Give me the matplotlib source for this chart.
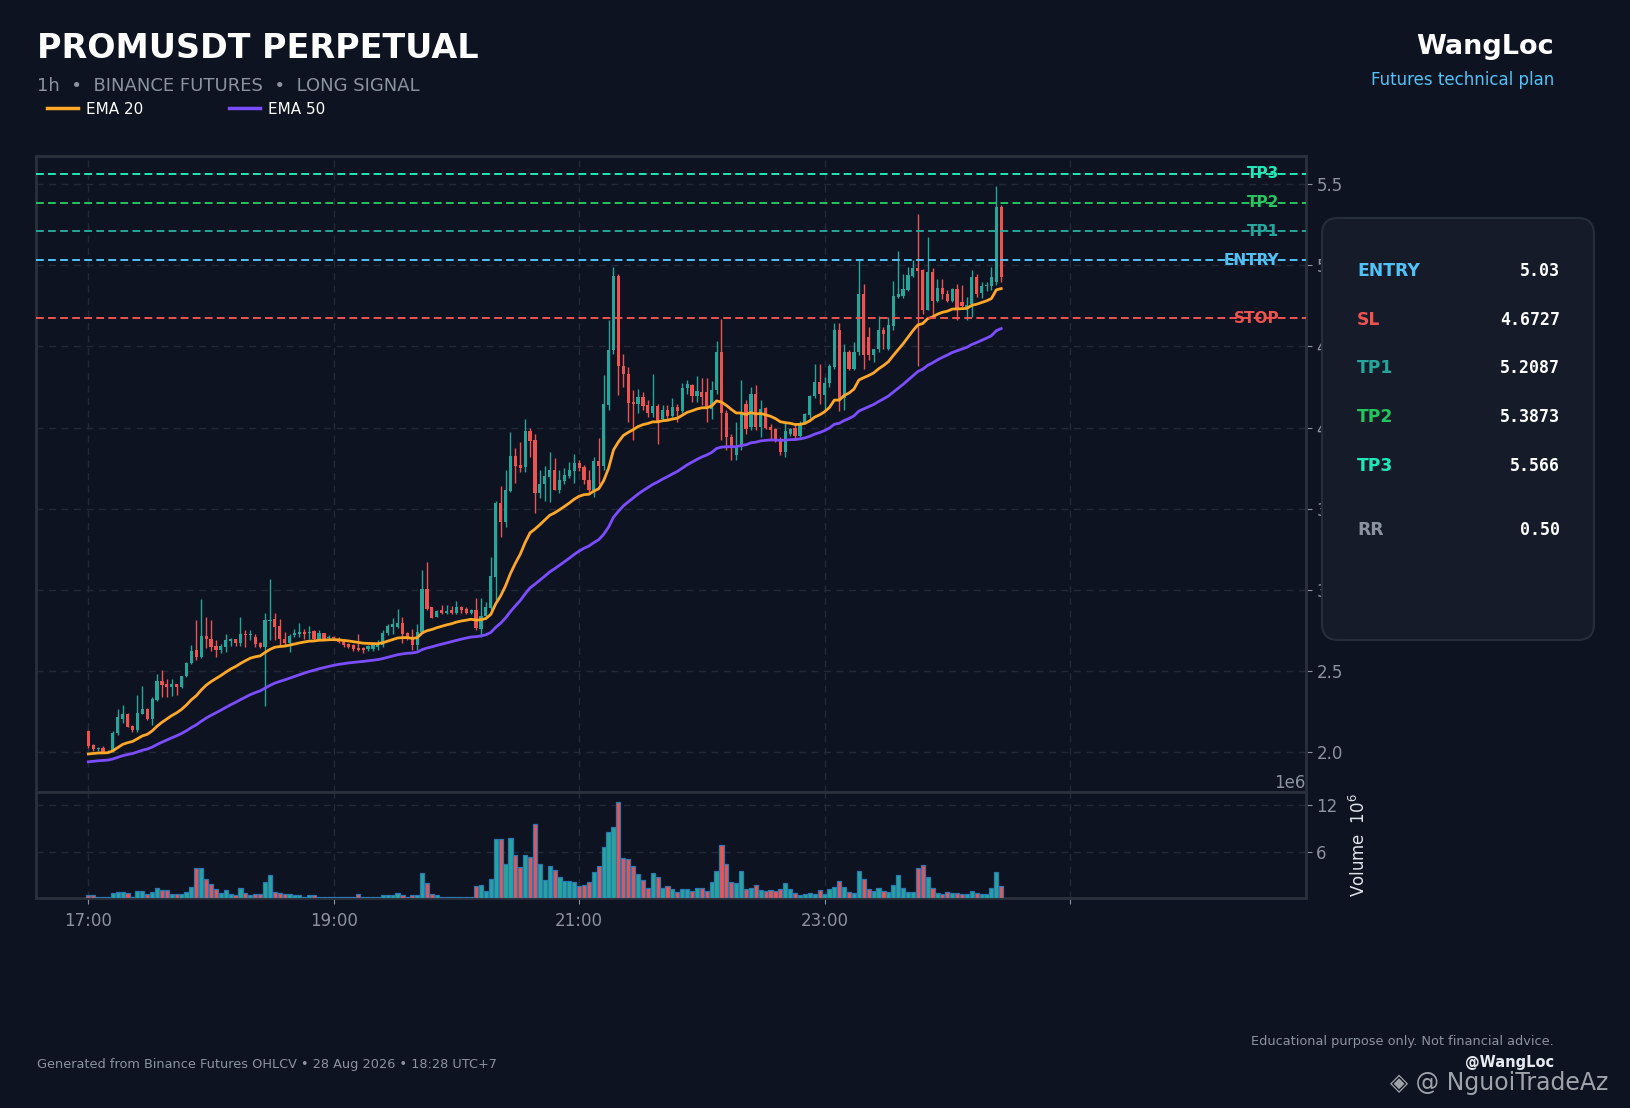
import matplotlib
matplotlib.use("Agg")
import matplotlib.pyplot as plt
import matplotlib.dates as mdates
from matplotlib.patches import FancyBboxPatch
from matplotlib.lines import Line2D
from matplotlib.ticker import MultipleLocator, FixedLocator, FuncFormatter
import numpy as np
import pandas as pd

# ---- data --------------------------------------------------------------
start_time = "2026-08-27 17:00"
bar_seconds = 144

opens = [
    2.129, 2.043, 2.016, 2.025, 2.004, 2.008, 2.115, 2.207, 2.236, 2.160,
    2.138, 2.236, 2.265, 2.203, 2.320, 2.437, 2.417, 2.403, 2.421, 2.403,
    2.466, 2.550, 2.631, 2.585, 2.713, 2.700, 2.653, 2.628, 2.649, 2.684,
    2.698, 2.670, 2.727, 2.723, 2.711, 2.672, 2.649, 2.808, 2.819, 2.776,
    2.694, 2.674, 2.723, 2.725, 2.740, 2.735, 2.745, 2.698, 2.731, 2.705,
    2.708, 2.700, 2.684, 2.665, 2.659, 2.642, 2.640, 2.635, 2.635, 2.649,
    2.659, 2.731, 2.772, 2.772, 2.793, 2.731, 2.700, 2.659, 2.741, 3.008,
    2.895, 2.834, 2.875, 2.858, 2.875, 2.858, 2.895, 2.880, 2.858, 2.875,
    2.760, 2.838, 2.891, 3.080, 3.538, 3.419, 3.610, 3.824, 3.768, 3.758,
    3.978, 3.922, 3.598, 3.651, 3.696, 3.737, 3.618, 3.672, 3.701, 3.733,
    3.783, 3.758, 3.680, 3.614, 3.795, 3.762, 4.138, 4.477, 4.933, 4.380,
    4.333, 4.156, 4.144, 4.189, 4.138, 4.093, 4.132, 4.056, 4.107, 4.070,
    4.128, 4.103, 4.247, 4.261, 4.193, 4.220, 4.220, 4.117, 4.231, 4.467,
    4.087, 3.943, 3.830, 3.881, 4.144, 4.004, 4.206, 4.004, 4.122, 4.004,
    3.990, 3.926, 3.850, 3.960, 3.998, 3.950, 4.029, 4.076, 4.193, 4.282,
    4.200, 4.276, 4.374, 4.600, 4.180, 4.467, 4.360, 4.467, 4.826, 4.559,
    4.446, 4.487, 4.600, 4.487, 4.625, 4.806, 4.810, 4.847, 4.933, 4.986,
    4.970, 4.723, 4.957, 4.781, 4.863, 4.826, 4.781, 4.853, 4.775, 4.745,
    4.764, 4.929, 4.830, 4.870, 4.870, 4.900, 5.360,
]
highs = [
    2.136, 2.049, 2.033, 2.037, 2.012, 2.131, 2.265, 2.290, 2.240, 2.166,
    2.351, 2.407, 2.269, 2.341, 2.479, 2.505, 2.448, 2.448, 2.421, 2.472,
    2.555, 2.657, 2.813, 2.941, 2.834, 2.817, 2.690, 2.665, 2.727, 2.704,
    2.698, 2.832, 2.752, 2.752, 2.727, 2.678, 2.856, 3.064, 2.856, 2.821,
    2.739, 2.725, 2.756, 2.793, 2.756, 2.780, 2.752, 2.752, 2.731, 2.720,
    2.715, 2.711, 2.690, 2.670, 2.665, 2.727, 2.649, 2.660, 2.665, 2.690,
    2.752, 2.790, 2.824, 2.879, 2.834, 2.741, 2.756, 2.787, 3.125, 3.169,
    2.895, 2.875, 2.906, 2.906, 2.900, 2.932, 2.900, 2.895, 2.879, 2.947,
    2.947, 2.926, 3.204, 3.546, 3.641, 3.737, 3.974, 3.877, 3.912, 4.056,
    4.000, 3.963, 3.737, 3.762, 3.850, 3.814, 3.737, 3.754, 3.789, 3.840,
    3.799, 3.768, 3.738, 3.820, 3.933, 4.323, 4.662, 4.990, 4.949, 4.456,
    4.374, 4.230, 4.241, 4.220, 4.169, 4.333, 4.148, 4.138, 4.138, 4.185,
    4.148, 4.276, 4.296, 4.267, 4.317, 4.308, 4.308, 4.288, 4.534, 4.672,
    4.110, 3.960, 4.035, 4.292, 4.170, 4.250, 4.265, 4.173, 4.130, 4.020,
    4.000, 3.943, 4.035, 4.000, 4.014, 4.040, 4.090, 4.200, 4.395, 4.395,
    4.313, 4.395, 4.645, 4.645, 4.518, 4.477, 4.528, 5.042, 4.888, 4.621,
    4.487, 4.688, 4.621, 4.682, 4.902, 5.087, 4.945, 4.990, 5.031, 5.319,
    4.980, 5.175, 4.986, 4.918, 4.918, 4.851, 4.863, 4.888, 4.882, 4.806,
    4.974, 4.945, 4.900, 4.900, 4.990, 5.490, 5.370,
]
lows = [
    2.023, 2.006, 2.008, 1.992, 1.992, 2.000, 2.103, 2.179, 2.152, 2.125,
    2.125, 2.232, 2.197, 2.170, 2.314, 2.341, 2.337, 2.345, 2.349, 2.392,
    2.462, 2.540, 2.567, 2.577, 2.641, 2.624, 2.583, 2.608, 2.618, 2.654,
    2.656, 2.654, 2.645, 2.688, 2.649, 2.639, 2.285, 2.690, 2.690, 2.653,
    2.659, 2.614, 2.711, 2.711, 2.694, 2.698, 2.690, 2.690, 2.690, 2.695,
    2.690, 2.670, 2.650, 2.640, 2.620, 2.625, 2.610, 2.620, 2.625, 2.628,
    2.649, 2.720, 2.727, 2.762, 2.670, 2.690, 2.628, 2.628, 2.741, 2.875,
    2.824, 2.830, 2.854, 2.854, 2.854, 2.854, 2.858, 2.854, 2.854, 2.752,
    2.710, 2.834, 2.875, 2.937, 3.327, 3.388, 3.600, 3.659, 3.727, 3.727,
    3.820, 3.475, 3.569, 3.549, 3.542, 3.614, 3.594, 3.655, 3.692, 3.659,
    3.733, 3.655, 3.594, 3.573, 3.655, 3.738, 4.107, 4.456, 4.200, 4.251,
    4.035, 3.922, 4.087, 4.107, 4.066, 4.066, 3.902, 4.047, 4.046, 4.066,
    4.035, 4.087, 4.206, 4.159, 4.159, 4.138, 4.035, 4.053, 4.210, 3.922,
    3.860, 3.800, 3.800, 3.860, 3.960, 3.984, 3.984, 3.943, 3.990, 3.922,
    3.910, 3.830, 3.820, 3.950, 3.930, 3.940, 4.020, 4.060, 4.180, 4.148,
    4.107, 4.251, 4.360, 4.100, 4.107, 4.354, 4.354, 4.446, 4.360, 4.415,
    4.405, 4.467, 4.487, 4.477, 4.600, 4.800, 4.800, 4.842, 4.929, 4.378,
    4.703, 4.723, 4.682, 4.775, 4.795, 4.775, 4.775, 4.662, 4.744, 4.662,
    4.682, 4.806, 4.800, 4.840, 4.850, 4.880, 4.900,
]
closes = [
    2.039, 2.018, 2.025, 2.000, 2.008, 2.119, 2.216, 2.236, 2.156, 2.138,
    2.240, 2.265, 2.203, 2.327, 2.437, 2.413, 2.403, 2.421, 2.403, 2.466,
    2.550, 2.626, 2.585, 2.713, 2.694, 2.645, 2.628, 2.653, 2.688, 2.698,
    2.670, 2.727, 2.723, 2.730, 2.667, 2.647, 2.813, 2.813, 2.772, 2.694,
    2.674, 2.717, 2.731, 2.740, 2.727, 2.739, 2.694, 2.733, 2.698, 2.712,
    2.702, 2.680, 2.660, 2.650, 2.635, 2.632, 2.628, 2.655, 2.659, 2.663,
    2.731, 2.776, 2.787, 2.793, 2.727, 2.706, 2.659, 2.741, 3.008, 2.885,
    2.828, 2.869, 2.858, 2.869, 2.858, 2.895, 2.875, 2.858, 2.875, 2.762,
    2.838, 2.895, 3.086, 3.538, 3.419, 3.614, 3.824, 3.762, 3.752, 3.978,
    3.918, 3.598, 3.655, 3.701, 3.737, 3.618, 3.676, 3.707, 3.737, 3.783,
    3.748, 3.680, 3.614, 3.795, 3.762, 4.144, 4.477, 4.933, 4.380, 4.329,
    4.152, 4.144, 4.189, 4.132, 4.093, 4.132, 4.036, 4.107, 4.070, 4.128,
    4.103, 4.247, 4.267, 4.193, 4.224, 4.189, 4.128, 4.231, 4.467, 4.087,
    3.943, 3.880, 3.880, 4.087, 3.994, 4.206, 4.004, 4.113, 4.000, 3.984,
    3.922, 3.850, 3.978, 3.990, 3.947, 4.029, 4.083, 4.193, 4.282, 4.210,
    4.276, 4.378, 4.600, 4.170, 4.467, 4.360, 4.467, 4.826, 4.446, 4.446,
    4.487, 4.600, 4.575, 4.631, 4.810, 4.822, 4.857, 4.939, 4.986, 4.966,
    4.723, 4.957, 4.781, 4.863, 4.822, 4.781, 4.853, 4.740, 4.750, 4.755,
    4.929, 4.826, 4.870, 4.880, 4.930, 5.360, 4.930,
]
# volume in millions
volumes = [
    0.33, 0.33, 0.10, 0.10, 0.10, 0.59, 0.76, 0.76, 0.59, 0.10,
    0.85, 0.85, 0.46, 0.76, 1.23, 0.97, 0.97, 0.46, 0.46, 0.46,
    0.72, 1.35, 3.91, 3.91, 2.38, 1.74, 1.10, 0.59, 0.97, 0.46,
    0.33, 1.23, 0.59, 0.33, 0.46, 0.46, 2.00, 2.89, 0.72, 0.59,
    0.46, 0.46, 0.33, 0.33, 0.15, 0.33, 0.33, 0.10, 0.10, 0.10,
    0.10, 0.10, 0.10, 0.10, 0.12, 0.46, 0.10, 0.10, 0.10, 0.10,
    0.33, 0.33, 0.33, 0.59, 0.33, 0.15, 0.33, 0.33, 3.19, 1.86,
    0.46, 0.33, 0.10, 0.10, 0.10, 0.10, 0.10, 0.10, 0.10, 1.48,
    1.61, 0.85, 2.38, 7.60, 7.60, 4.34, 7.74, 5.57, 4.04, 5.57,
    5.31, 9.60, 4.34, 2.34, 4.09, 3.58, 2.68, 2.17, 2.17, 2.04,
    1.53, 1.66, 2.04, 3.32, 4.09, 6.64, 8.56, 9.19, 12.50, 5.11,
    4.98, 4.09, 3.07, 2.30, 1.28, 3.19, 2.68, 1.28, 1.53, 1.15,
    0.77, 1.15, 1.15, 0.89, 1.28, 1.28, 0.89, 2.04, 3.45, 6.90,
    4.34, 2.04, 1.92, 3.45, 1.15, 1.28, 1.66, 1.02, 0.89, 1.02,
    0.89, 1.15, 1.92, 1.15, 0.64, 0.38, 0.51, 0.64, 0.51, 1.02,
    0.51, 1.15, 1.40, 2.17, 1.40, 0.77, 0.64, 3.45, 2.43, 1.15,
    0.89, 1.28, 0.89, 0.77, 1.66, 2.94, 1.28, 0.77, 0.77, 3.83,
    4.21, 2.68, 1.28, 0.64, 0.51, 0.77, 0.64, 0.64, 0.51, 0.51,
    0.89, 0.64, 0.51, 0.51, 1.28, 3.32, 1.53,
]

ema20_seed = 1.983
ema50_seed = 1.936

entry = 5.03
stop_loss = 4.6727
tp1 = 5.2087
tp2 = 5.3873
tp3 = 5.566
rr = 0.50

# ---- colours -------------------------------------------------------------
BG = "#0d1320"
PANEL = "#151b29"
SPINE = "#2a303c"
GRID = "#222938"
MUTED = "#8b93a1"
UP = "#26a69a"
DOWN = "#ef5350"
C_EMA20 = "#ffa726"
C_EMA50 = "#7c4dff"
C_ENTRY = "#4fc3f7"
C_SL = "#ef5350"
C_TP1 = "#26a69a"
C_TP2 = "#22c55e"
C_TP3 = "#1de9b6"


def ema(values, span, seed):
    alpha = 2.0 / (span + 1)
    out = []
    prev = seed
    for v in values:
        prev = prev + alpha * (v - prev)
        out.append(prev)
    return np.array(out)


times = pd.date_range(start_time, periods=len(closes), freq=f"{bar_seconds}s")
x = mdates.date2num(times.to_pydatetime())
bar_w = bar_seconds / 86400.0

o = np.array(opens)
h = np.array(highs)
l = np.array(lows)
c = np.array(closes)
up = c >= o
colors = np.where(up, UP, DOWN)

fig = plt.figure(figsize=(16.31, 11.08), dpi=100, facecolor=BG)
ax = fig.add_axes([0.0223, 0.2852, 0.7784, 0.574], facecolor=BG)
axv = fig.add_axes([0.0223, 0.1898, 0.7784, 0.0954], facecolor=BG, sharex=ax)

# candles
ax.vlines(x, l, h, colors=colors, linewidth=1.0, zorder=2)
body_bottom = np.minimum(o, c)
body_h = np.maximum(np.abs(c - o), 0.004)
ax.bar(x, body_h, bottom=body_bottom, width=bar_w * 0.65, color=colors,
       linewidth=0, zorder=3)

ax.plot(x, ema(c, 20, ema20_seed), color=C_EMA20, lw=2.0, zorder=4, label="EMA 20")
ax.plot(x, ema(c, 50, ema50_seed), color=C_EMA50, lw=2.0, zorder=4, label="EMA 50")

levels = [
    (tp3, "TP3", C_TP3),
    (tp2, "TP2", C_TP2),
    (tp1, "TP1", C_TP1),
    (entry, "ENTRY", C_ENTRY),
    (stop_loss, "STOP", C_SL),
]
for price, name, col in levels:
    ax.axhline(price, color=col, lw=1.4, ls=(0, (4, 2.2)), zorder=5)
    ax.text(0.979, price, name, transform=ax.get_yaxis_transform(),
            ha="right", va="center", color=col, fontsize=11,
            fontweight="bold", zorder=6)

# volume
axv.bar(x, np.array(volumes) * 1e6, width=bar_w * 0.85, color=colors,
        edgecolor="#2b78b5", linewidth=0.9, zorder=3)

# axes styling
x0 = mdates.date2num(times[0] - pd.Timedelta(minutes=25.4))
x1 = mdates.date2num(times[0] + pd.Timedelta(minutes=595.4))
ax.set_xlim(x0, x1)
ax.set_ylim(1.754, 5.674)
axv.set_ylim(0, 13.75e6)

for a in (ax, axv):
    for s in a.spines.values():
        s.set_color(SPINE)
        s.set_linewidth(2)
    a.yaxis.tick_right()
    a.yaxis.set_label_position("right")
    a.tick_params(colors=MUTED, labelsize=12, length=4, color=MUTED)
    a.grid(True, color=GRID, ls=(0, (5, 4)), lw=1.0, zorder=0)
    a.set_axisbelow(True)

ax.yaxis.set_major_locator(MultipleLocator(0.5))
ax.yaxis.set_major_formatter(FuncFormatter(lambda v, p: f"{v:.1f}"))
ax.tick_params(axis="x", labelbottom=False, length=0)

axv.yaxis.set_major_locator(FixedLocator([6e6, 12e6]))
axv.ticklabel_format(axis="y", style="sci", scilimits=(6, 6))
axv.yaxis.get_offset_text().set_color(MUTED)
axv.yaxis.get_offset_text().set_fontsize(12)
axv.set_ylabel(r"Volume  $10^6$", color="#dfe3ea", fontsize=12, labelpad=8)

axv.xaxis.set_major_locator(mdates.HourLocator(byhour=[17, 19, 21, 23, 1]))


def hour_label(v, pos):
    d = mdates.num2date(v)
    return "" if d.hour == 1 else d.strftime("%H:%M")


axv.xaxis.set_major_formatter(FuncFormatter(hour_label))
axv.tick_params(axis="x", pad=6)

# header
fig.text(0.0227, 0.9558, "PROMUSDT PERPETUAL", color="white", fontsize=24,
         fontweight="bold", va="center", ha="left")
fig.text(0.0227, 0.9224, "1h  \u2022  BINANCE FUTURES  \u2022  LONG SIGNAL",
         color=MUTED, fontsize=13, va="center", ha="left")
fig.text(0.9528, 0.9576, "WangLoc", color="white", fontsize=19.5,
         fontweight="bold", va="center", ha="right")
fig.text(0.9528, 0.9278, "Futures technical plan", color=C_ENTRY, fontsize=12,
         va="center", ha="right")

handles = [Line2D([], [], color=C_EMA20, lw=2.5), Line2D([], [], color=C_EMA50, lw=2.5)]
fig.legend(handles, ["EMA 20", "EMA 50"], loc="center left",
           bbox_to_anchor=(0.029, 0.9016), ncol=2, frameon=False,
           fontsize=11, labelcolor="white", handlelength=2.0,
           handletextpad=0.55, columnspacing=5.6, borderaxespad=0,
           borderpad=0)

# plan panel
panel = FancyBboxPatch((13.22, 4.68), 2.72, 4.22,
                       boxstyle="round,pad=0,rounding_size=0.16",
                       transform=fig.dpi_scale_trans, facecolor=PANEL,
                       edgecolor="#262d3b", linewidth=1.5, zorder=2)
fig.add_artist(panel)

rows = [
    ("ENTRY", f"{entry:.2f}", C_ENTRY, 0.7554),
    ("SL", f"{stop_loss:.4f}", C_SL, 0.7112),
    ("TP1", f"{tp1:.4f}", C_TP1, 0.6679),
    ("TP2", f"{tp2:.4f}", C_TP2, 0.6236),
    ("TP3", f"{tp3:.3f}", C_TP3, 0.5794),
    ("RR", f"{rr:.2f}", MUTED, 0.5217),
]
for name, val, col, yy in rows:
    fig.text(0.832, yy, name, color=col, fontsize=12.3, fontweight="bold",
             va="center", ha="left", zorder=3)
    fig.text(0.9565, yy, val, color="white", fontsize=12, fontweight="bold",
             family="DejaVu Sans Mono", va="center", ha="right", zorder=3)

# footer
fig.text(0.0227, 0.0397,
         "Generated from Binance Futures OHLCV \u2022 28 Aug 2026 \u2022 18:28 UTC+7",
         color=MUTED, fontsize=9.25, va="center", ha="left")
fig.text(0.9528, 0.0596, "Educational purpose only. Not financial advice.",
         color=MUTED, fontsize=9.3, va="center", ha="right")
fig.text(0.9528, 0.0415, "@WangLoc", color="#e6e9ef", fontsize=10.5,
         fontweight="bold", va="center", ha="right")
fig.text(0.852, 0.0226, "\u25c8 @ NguoiTradeAz", color="#d0d4da", fontsize=17,
         alpha=0.75, va="center", ha="left")

fig.savefig("out.png", dpi=100, facecolor=BG)
